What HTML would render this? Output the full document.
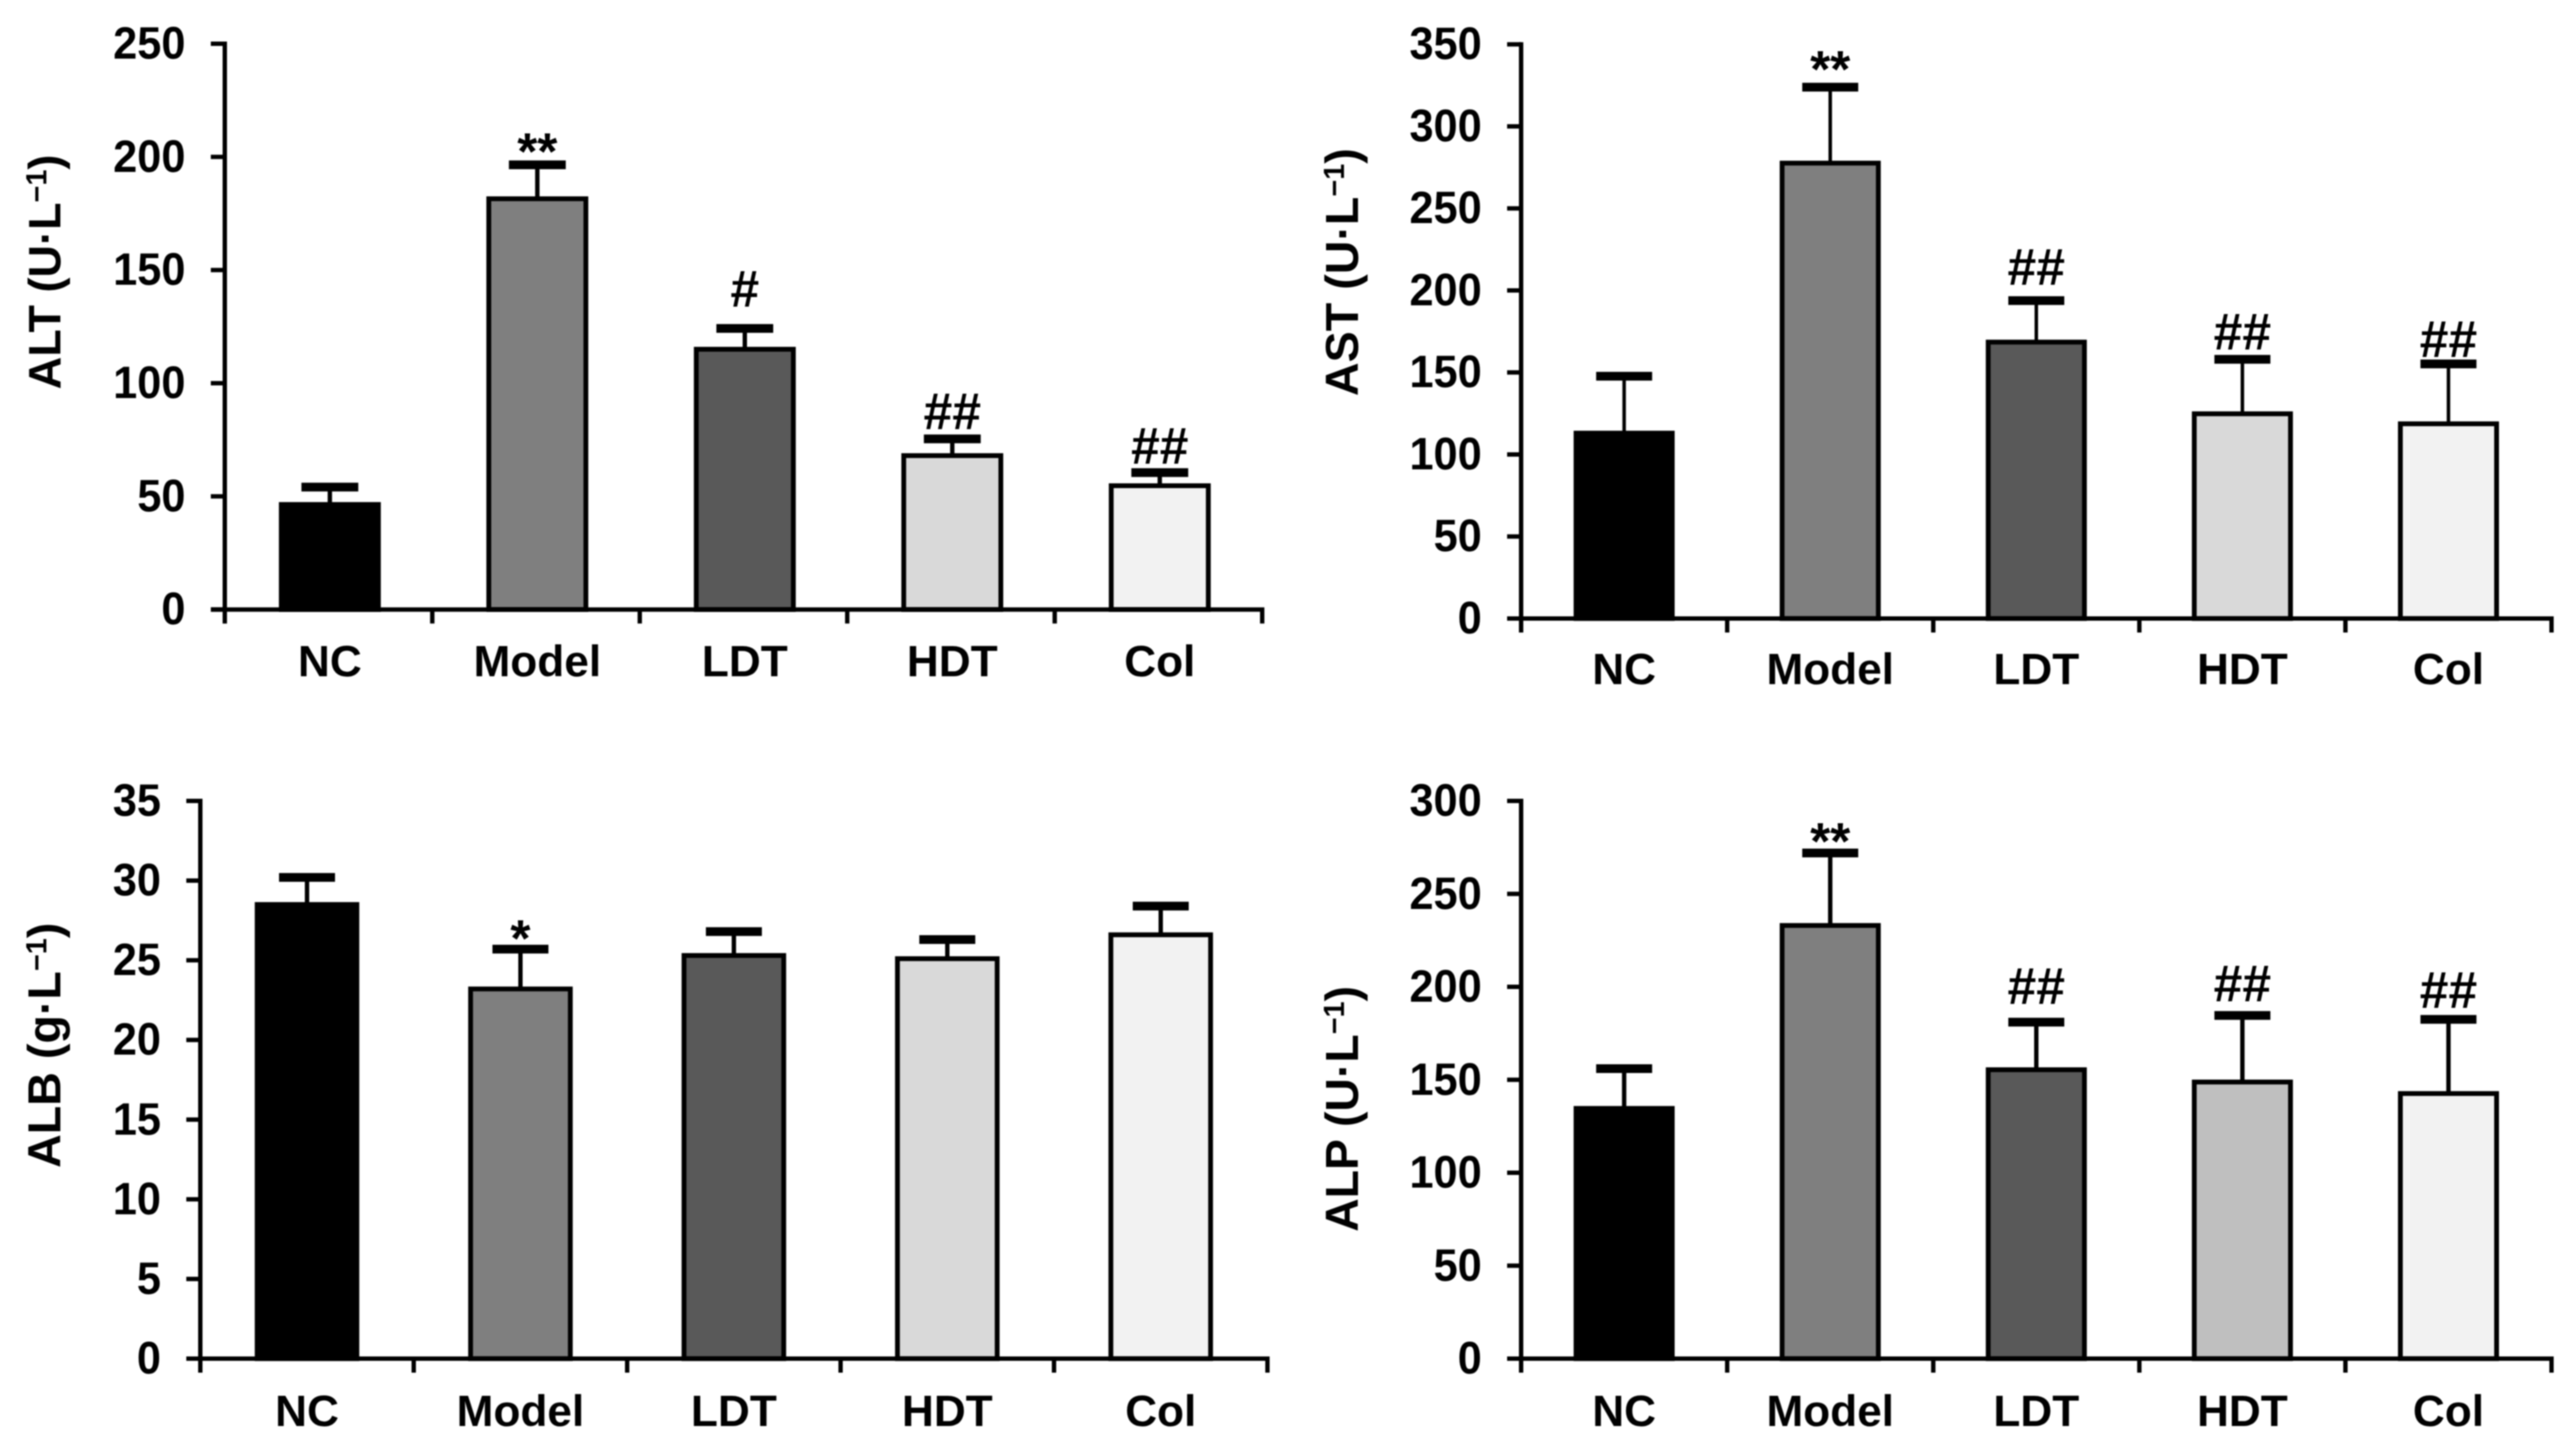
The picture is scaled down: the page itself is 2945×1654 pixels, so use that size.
<!DOCTYPE html>
<html lang="en">
<head>
<meta charset="utf-8">
<title>Serum ALT, AST, ALB and ALP by treatment group</title>
<style>
  html, body { margin: 0; padding: 0; background: #ffffff; }
  #figure { display: block; width: 2945px; height: 1654px; filter: blur(0.7px); }
  text { font-family: "Liberation Sans", Arial, sans-serif; font-weight: 700; fill: #000000; }
</style>
</head>
<body>
<svg id="figure" xmlns="http://www.w3.org/2000/svg" width="2945" height="1654" viewBox="0 0 2945 1654">
  <rect x="0" y="0" width="2945" height="1654" fill="#ffffff"/>

  <g id="panel-alt">
    <text transform="translate(69,445) rotate(-90)" font-size="51.5">ALT (U·L<tspan font-size="33" dy="-16">−1</tspan><tspan dy="16">)</tspan></text>
  </g>
  <g id="panel-ast">
    <text transform="translate(1552.5,452.7) rotate(-90)" font-size="53.3">AST (U·L<tspan font-size="33" dy="-16">−1</tspan><tspan dy="16">)</tspan></text>
  </g>
  <g id="panel-alb">
    <text transform="translate(69,1335) rotate(-90)" font-size="53.3">ALB (g·L<tspan font-size="33" dy="-16">−1</tspan><tspan dy="16">)</tspan></text>
  </g>
  <g id="panel-alp">
    <text transform="translate(1552.5,1408) rotate(-90)" font-size="53">ALP (U·L<tspan font-size="33" dy="-16">−1</tspan><tspan dy="16">)</tspan></text>
  </g>
</svg>

<script>
// ---- Data ----
const categories = ['NC', 'Model', 'LDT', 'HDT', 'Col'];

const altTicks = [0, 50, 100, 150, 200, 250];
const altValues = [46.4, 181.5, 115, 68, 54.7];
const altErrors = [7.7, 15, 9.2, 7.4, 5.8];
const altMarks = ['', '**', '#', '##', '##'];

const astTicks = [0, 50, 100, 150, 200, 250, 300, 350];
const astValues = [113, 277.6, 168.5, 124.8, 118.7];
const astErrors = [34.7, 46.3, 25.3, 33.2, 36.5];
const astMarks = ['', '**', '##', '##', '##'];

const albTicks = [0, 5, 10, 15, 20, 25, 30, 35];
const albValues = [28.5, 23.2, 25.3, 25.1, 26.6];
const albErrors = [1.7, 2.5, 1.5, 1.2, 1.8];
const albMarks = ['', '*', '', '', ''];

const alpTicks = [0, 50, 100, 150, 200, 250, 300];
const alpValues = [134.6, 233, 155.4, 148.8, 142.6];
const alpErrors = [21.4, 39, 25.6, 35.8, 39.9];
const alpMarks = ['', '**', '##', '##', '##'];

// ---- Layout and styling (separate from the data) ----
const SVG_NS = 'http://www.w3.org/2000/svg';
const FONT_SIZE = 50.5;
const TICK_FONT_SIZE = 49.5;
const TICK_STRETCH = 1.05;
const MARK_FONT_SIZE = 59;
const STROKE = 5;
const TICK_LEN = 16;

const altLayout = { groupId: 'panel-alt', prefix: 'alt', left: 257, right: 1443, top: 50, bottom: 696.7, barShift: 1.5, barWidth: 111, capWidth: 65, stem: 5, labelBaseline: 773, fills: ['#000000', '#7f7f7f', '#595959', '#d9d9d9', '#f2f2f2'], markLift: [0, -5, 25, 11, 10] };
const astLayout = { groupId: 'panel-ast', prefix: 'ast', left: 1739, right: 2917, top: 50.7, bottom: 707, barShift: 0, barWidth: 110, capWidth: 64, stem: 4, labelBaseline: 782, fills: ['#000000', '#7f7f7f', '#595959', '#d9d9d9', '#f2f2f2'], markLift: [0, 0, 18, 11, 8] };
const albLayout = { groupId: 'panel-alb', prefix: 'alb', left: 229, right: 1449, top: 915.5, bottom: 1553, barShift: 0, barWidth: 114, capWidth: 64, stem: 5, labelBaseline: 1630, fills: ['#000000', '#7f7f7f', '#595959', '#d9d9d9', '#f2f2f2'], markLift: [0, -8, 0, 0, 0] };
const alpLayout = { groupId: 'panel-alp', prefix: 'alp', left: 1739, right: 2917, top: 915.5, bottom: 1553, barShift: 0, barWidth: 110, capWidth: 64, stem: 5, labelBaseline: 1630, fills: ['#000000', '#7f7f7f', '#595959', '#bfbfbf', '#f2f2f2'], markLift: [0, -7, 21, 16, 13] };

// ---- Drawing ----
function make(tag, attrs, parent) {
  const node = document.createElementNS(SVG_NS, tag);
  Object.keys(attrs).forEach(function (key) { node.setAttribute(key, attrs[key]); });
  parent.appendChild(node);
  return node;
}

function drawPanel(layout, ticks, values, errors, marks) {
  const group = document.getElementById(layout.groupId);
  const prefix = layout.prefix;
  const maxTick = ticks[ticks.length - 1];
  const yScale = function (v) { return layout.bottom - (v / maxTick) * (layout.bottom - layout.top); };
  const band = (layout.right - layout.left) / categories.length;
  const xScale = function (i) { return layout.left + band * (i + 0.5) + layout.barShift; };
  let el;

  categories.forEach(function (cat, i) {
    const cx = xScale(i);
    const barTop = yScale(values[i]);
    const capY = yScale(values[i] + errors[i]);

    el = make('line', { x1: cx, x2: cx, y1: barTop, y2: capY, stroke: '#000', 'stroke-width': layout.stem }, group);
    
    

    el = make('rect', { x: cx - layout.capWidth / 2, y: capY - 5, width: layout.capWidth, height: 10, fill: '#000' }, group);
    
    

    el = make('rect', { x: cx - layout.barWidth / 2, y: barTop, width: layout.barWidth, height: layout.bottom - barTop, fill: layout.fills[i], stroke: '#000', 'stroke-width': 5.5 }, group);
    
    

    if (marks[i]) {
      el = make('text', { x: cx, y: capY - layout.markLift[i], 'text-anchor': 'middle', 'font-size': MARK_FONT_SIZE }, group);
      el.textContent = marks[i];
      
      
    }

    el = make('text', { x: cx, y: layout.labelBaseline, 'text-anchor': 'middle', 'font-size': FONT_SIZE }, group);
    el.textContent = cat;
    
    
  });

  el = make('line', { x1: layout.left, x2: layout.left, y1: layout.top - STROKE / 2, y2: layout.bottom + TICK_LEN, stroke: '#000', 'stroke-width': STROKE }, group);
  
  

  el = make('line', { x1: layout.left - TICK_LEN, x2: layout.right + STROKE / 2, y1: layout.bottom, y2: layout.bottom, stroke: '#000', 'stroke-width': STROKE }, group);
  
  

  ticks.forEach(function (t) {
    const y = yScale(t);
    el = make('line', { x1: layout.left - TICK_LEN, x2: layout.left, y1: y, y2: y, stroke: '#000', 'stroke-width': STROKE }, group);
    
    

    el = make('text', { transform: 'translate(' + (layout.left - 45) + ',' + (y + 17) + ') scale(1,' + TICK_STRETCH + ')', 'text-anchor': 'end', 'font-size': TICK_FONT_SIZE }, group);
    el.textContent = String(t);
    
    
  });

  for (let k = 1; k <= categories.length; k++) {
    const x = layout.left + band * k;
    el = make('line', { x1: x, x2: x, y1: layout.bottom, y2: layout.bottom + TICK_LEN, stroke: '#000', 'stroke-width': STROKE }, group);
    
    
  }
}

drawPanel(altLayout, altTicks, altValues, altErrors, altMarks);
drawPanel(astLayout, astTicks, astValues, astErrors, astMarks);
drawPanel(albLayout, albTicks, albValues, albErrors, albMarks);
drawPanel(alpLayout, alpTicks, alpValues, alpErrors, alpMarks);
</script>
</body>
</html>
